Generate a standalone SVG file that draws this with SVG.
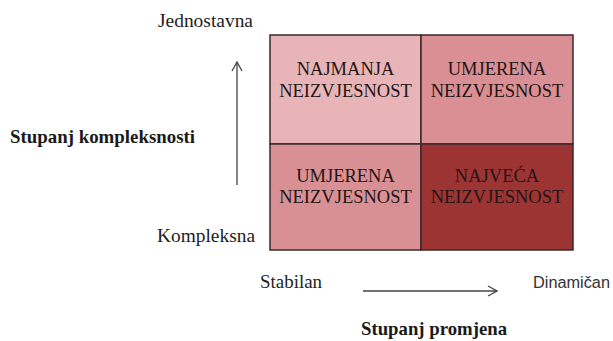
<svg xmlns="http://www.w3.org/2000/svg" width="613" height="341" viewBox="0 0 613 341">
<defs>
<style>
.serif{font-family:"Liberation Serif","DejaVu Serif","Times New Roman",serif;font-size:19px;fill:#222}
.bold{font-weight:bold;fill:#1a1a1a}
.sans{font-family:"Liberation Sans",Arial,sans-serif;font-size:16px;fill:#333}
.cell{stroke:#3a2a2a;stroke-width:1.5}
.ct{font-family:"Liberation Serif","DejaVu Serif","Times New Roman",serif;font-size:18.5px;fill:#241414;text-anchor:middle}
.ax{stroke:#444;stroke-width:1.3;fill:none}
</style>
<marker id="arr" viewBox="0 0 12 12" refX="11" refY="6" markerWidth="12" markerHeight="12" markerUnits="userSpaceOnUse" orient="auto">
<path d="M2,1 L11,6 L2,11" fill="none" stroke="#444" stroke-width="1.3"/>
</marker>
</defs>
<rect width="613" height="341" fill="#ffffff"/>
<g id="cell-tl">
<rect class="cell" x="270" y="35" width="151" height="109" fill="#e8b4b7"/>
<text class="ct" x="345.5" y="75">NAJMANJA</text>
<text class="ct" x="345.5" y="97">NEIZVJESNOST</text>
</g>
<g id="cell-tr">
<rect class="cell" x="421" y="35" width="152" height="109" fill="#d98f94"/>
<text class="ct" x="497" y="75">UMJERENA</text>
<text class="ct" x="497" y="97">NEIZVJESNOST</text>
</g>
<g id="cell-bl">
<rect class="cell" x="270" y="144" width="151" height="106" fill="#d99094"/>
<text class="ct" x="345.5" y="182">UMJERENA</text>
<text class="ct" x="345.5" y="203">NEIZVJESNOST</text>
</g>
<g id="cell-br">
<rect class="cell" x="421" y="144" width="152" height="106" fill="#9c3434"/>
<text class="ct" x="497" y="182">NAJVEĆA</text>
<text class="ct" x="497" y="203">NEIZVJESNOST</text>
</g>
<g id="connectors">
<line class="ax" x1="237" y1="185" x2="237" y2="62" marker-end="url(#arr)"/>
<line class="ax" x1="363" y1="291" x2="497" y2="291" marker-end="url(#arr)"/>
</g>
<g id="labels">
<text class="serif" x="158" y="27" textLength="95" lengthAdjust="spacingAndGlyphs">Jednostavna</text>
<text class="serif" x="157" y="242" textLength="98" lengthAdjust="spacingAndGlyphs">Kompleksna</text>
<text class="serif bold" x="10" y="143" textLength="185" lengthAdjust="spacingAndGlyphs">Stupanj kompleksnosti</text>
<text class="serif" x="260" y="288" textLength="62" lengthAdjust="spacingAndGlyphs">Stabilan</text>
<text class="sans" x="533" y="288" textLength="77" lengthAdjust="spacingAndGlyphs">Dinamičan</text>
<text class="serif bold" x="361" y="335" textLength="146" lengthAdjust="spacingAndGlyphs">Stupanj promjena</text>
</g>
</svg>
